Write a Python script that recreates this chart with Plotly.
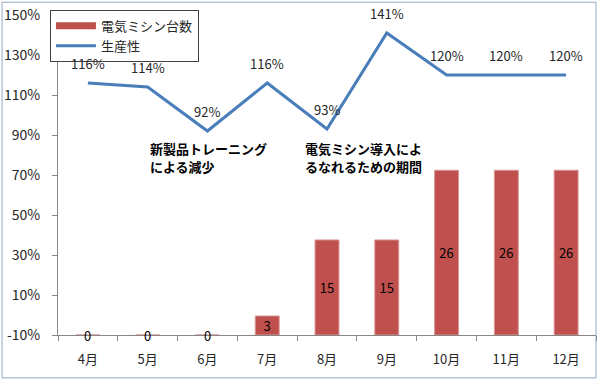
import plotly.graph_objects as go

months = ["4月", "5月", "6月", "7月", "8月", "9月", "10月", "11月", "12月"]
machines = [0, 0, 0, 3, 15, 15, 26, 26, 26]
productivity = [1.16, 1.14, 0.92, 1.16, 0.93, 1.41, 1.20, 1.20, 1.20]
y_ticks = [-0.10, 0.10, 0.30, 0.50, 0.70, 0.90, 1.10, 1.30, 1.50]
y_tick_labels = ["-10%", "10%", "30%", "50%", "70%", "90%", "110%", "130%", "150%"]
note1 = ["新製品トレーニング", "による減少"]
note2 = ["電気ミシン導入によ", "るなれるための期間"]

FONT = "Noto Sans CJK JP"
TXT = "#262626"
RED = "#C0504D"
BLUE = "#4A7EBB"

fig = go.Figure()
fig.add_trace(go.Bar(
    x=months, y=machines, name="電気ミシン台数", yaxis="y2", showlegend=False,
    marker=dict(color=RED, line=dict(color="#D99694", width=1)),
    text=[str(v) if v else "" for v in machines], textposition="inside",
    insidetextanchor="middle", constraintext="none", textangle=0,
    textfont=dict(family=FONT, size=13, color="#000000"),
    width=0.4,
))
# legend entry for bars drawn as a wide red rectangle (like the reference)
fig.add_trace(go.Scatter(
    x=[None], y=[None], name="電気ミシン台数", mode="lines",
    line=dict(color=RED, width=7),
))
fig.add_trace(go.Scatter(
    x=months, y=productivity, name="生産性", mode="lines",
    line=dict(color=BLUE, width=3),
))
for m, v in zip(months, productivity):
    fig.add_annotation(x=m, y=v, text=f"{round(v*100)}%", showarrow=False,
                       yanchor="middle", yshift=20,
                       font=dict(family=FONT, size=13, color=TXT))
# zero-height bars still need labels at the baseline
for m, v in zip(months, machines):
    if v == 0:
        fig.add_annotation(x=m, y=-0.10, text="0", showarrow=False, yanchor="middle",
                           font=dict(family=FONT, size=13, color="#000000"))

for xpos, lines in ((0.167, note1), (0.455, note2)):
    for i, line in enumerate(lines):
        fig.add_annotation(x=xpos, xref="paper", y=0.835 - 0.09 * i, yref="y",
                           text=f"<b>{line}</b>", showarrow=False,
                           xanchor="left", yanchor="middle", align="left",
                           font=dict(family=FONT, size=13, color="#000000"))

fig.add_shape(type="rect", xref="paper", yref="paper", x0=-0.104, x1=1.0, y0=-0.134, y1=1.04,
              line=dict(color="#8EA9C8", width=1), fillcolor="rgba(0,0,0,0)", layer="below")

fig.update_layout(
    width=600, height=380,
    margin=dict(l=58, r=4, t=15, b=45, autoexpand=False),
    paper_bgcolor="white", plot_bgcolor="white",
    font=dict(family=FONT, size=13, color=TXT),
    showlegend=True,
    legend=dict(x=-0.015, y=1.016, xanchor="left", yanchor="top",
                bgcolor="white", bordercolor="#404040", borderwidth=1,
                font=dict(family=FONT, size=13, color=TXT),
                itemwidth=40, tracegroupgap=0),
    xaxis=dict(type="category", showline=True, linecolor="#868686", linewidth=1,
               ticks="outside", tickson="boundaries", ticklen=5, tickcolor="#868686",
               showgrid=False, ticklabelstandoff=12,
               tickfont=dict(family=FONT, size=13, color=TXT)),
    yaxis=dict(range=[-0.10, 1.50], tickvals=y_ticks, ticktext=y_tick_labels,
               showline=True, linecolor="#868686", linewidth=1, ticks="outside",
               ticklen=5, tickcolor="#868686", showgrid=False, zeroline=False,
               ticklabelstandoff=9,
               tickfont=dict(family=FONT, size=14, color=TXT)),
    yaxis2=dict(range=[0, 50.5], overlaying="y", side="right", visible=False,
                showgrid=False, zeroline=False),
    bargap=0.6,
)

fig.write_html("out.html", config={"displayModeBar": False},
               post_script="document.body.style.margin='0';")
